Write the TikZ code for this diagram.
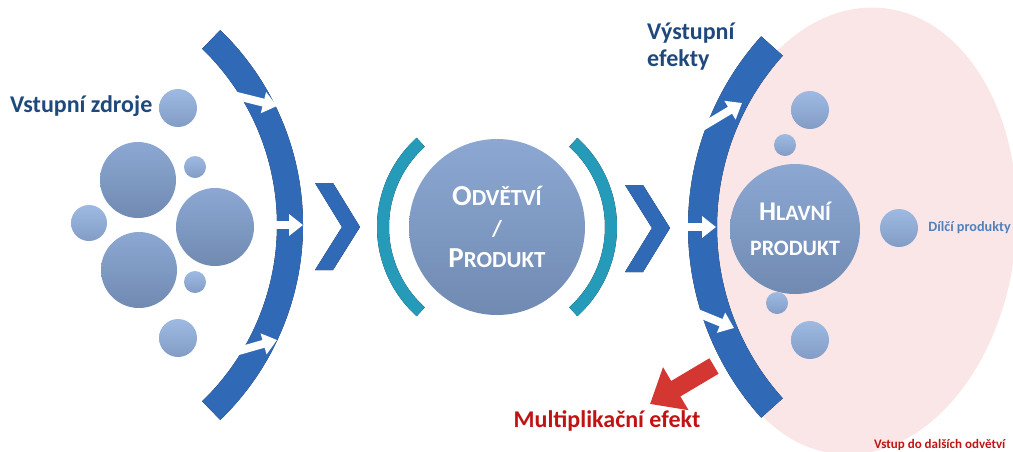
\documentclass[tikz,border=0pt]{standalone}
\usepackage{fontspec}
\setmainfont{Carlito}
\usepackage{xcolor}
\usepackage{tikz}
\usetikzlibrary{calc, positioning, arrows.meta}

\definecolor{tmavamodra}{RGB}{31,73,125}
\definecolor{oblouk}{RGB}{72,142,218}
\definecolor{obloukt}{RGB}{48,105,182}
\definecolor{tyrkys}{RGB}{60,190,218}
\definecolor{tyrkyst}{RGB}{38,155,185}
\definecolor{kruh}{RGB}{158,186,226}
\definecolor{kruht}{RGB}{130,156,198}
\definecolor{velkykruh}{RGB}{140,168,210}
\definecolor{velkykruht}{RGB}{112,138,178}
\definecolor{cervena}{RGB}{192,20,20}
\definecolor{sipkacervena}{RGB}{212,55,50}
\definecolor{ruzova}{RGB}{250,230,230}
\definecolor{strmodra}{RGB}{79,129,189}

\newcommand\prvnipismeno[1]{{\fontsize{29}{31}\selectfont #1}}

\begin{document}
\begin{tikzpicture}[>=latex, x=1pt, y=-1pt,
    bublina/.style={circle, inner sep=0pt, minimum size=#1, top color=kruh, bottom color=kruht},
    velka/.style={circle, inner sep=0pt, minimum size=#1, top color=velkykruh, bottom color=velkykruht},
    nadpis/.style={font=\fontsize{24}{27}\selectfont\bfseries, text=tmavamodra, inner sep=0pt},
    obl/.style={top color=obloukt, middle color=oblouk, bottom color=obloukt},
    zav/.style={top color=tyrkyst, middle color=tyrkys, bottom color=tyrkyst},
    bilasipka/.style={draw=white, line width=8pt, -{Triangle[length=14pt, width=21pt]}}]
    % pozadi
    \fill[white] (0,0) rectangle (1013,451);
    \useasboundingbox (0,0) rectangle (1013,451);
    \fill[ruzova, rotate around={-6:(860,231)}] (860,231) ellipse[x radius=156, y radius=224];

    % vstupni zdroje
    \node[velka=76pt] (zA) at (138,180) {};
    \node[velka=78pt] (zB) at (215,227) {};
    \node[velka=76pt] (zC) at (139,270) {};
    \node[bublina=36pt] (z1) at (89,223) {};
    \node[bublina=38pt] (z2) at (178,108) {};
    \node[bublina=22pt] (z3) at (195,167) {};
    \node[bublina=22pt] (z4) at (195,282) {};
    \node[bublina=38pt] (z5) at (178,338) {};
    \node[nadpis, anchor=west] (vstup) at (10,106) {Vstupní zdroje};

    % levy oblouk
    \coordinate (sL) at (32,225);
    \fill[obl] ($(sL)+(-46:271)$) arc[start angle=-46, end angle=46, radius=271]
        -- ($(sL)+(46:245)$) arc[start angle=46, end angle=-46, radius=245] -- cycle;
    \coordinate (aL1) at (213,90);  \coordinate (bL1) at (277,106);
    \coordinate (aL2) at (255,225); \coordinate (bL2) at (303,225);
    \coordinate (aL3) at (207,360); \coordinate (bL3) at (277,340);
    \foreach \i in {1,2,3} \draw[bilasipka] (aL\i) -- (bL\i);

    % sipky
    \fill[obl] (315,183) -- (333,183) -- (360,227) -- (333,270) -- (315,270) -- (342,227) -- cycle;
    \fill[obl] (625,185) -- (643,185) -- (670,228) -- (643,272) -- (625,272) -- (652,228) -- cycle;

    % odvetvi / produkt
    \node[velka=176pt, text=white, align=center, font=\fontsize{23}{31}\selectfont\bfseries] (odv) at (497,227)
        {\prvnipismeno{O}DVĚTVÍ\\ /\\ \prvnipismeno{P}RODUKT};
    \fill[zav] ($(odv)+(132:120)$) arc[start angle=132, end angle=228, radius=120]
        -- ($(odv)+(228:108)$) arc[start angle=228, end angle=132, radius=108] -- cycle;
    \fill[zav] ($(odv)+(-48:120)$) arc[start angle=-48, end angle=48, radius=120]
        -- ($(odv)+(48:108)$) arc[start angle=48, end angle=-48, radius=108] -- cycle;

    % multiplikacni efekt
    \coordinate (mA) at (714,366);
    \coordinate (mB) at (650,404);
    \draw[draw=sipkacervena, line width=18pt, -{Triangle[length=30pt, width=48pt]}] (mA) -- (mB);
    \node[nadpis, text=cervena] (mult) at (607,421) {Multiplikační efekt};

    % pravy oblouk
    \coordinate (sR) at (973,227);
    \fill[obl] ($(sR)+(138:285)$) arc[start angle=138, end angle=222, radius=285]
        -- ($(sR)+(222:256)$) arc[start angle=222, end angle=138, radius=256] -- cycle;
    \coordinate (aR1) at (697,130); \coordinate (bR1) at (742,103);
    \coordinate (aR2) at (680,227); \coordinate (bR2) at (716,227);
    \coordinate (aR3) at (690,310); \coordinate (bR3) at (734,328);
    \foreach \i in {1,2,3} \draw[bilasipka] (aR\i) -- (bR\i);
    \node[nadpis, align=left, anchor=north west] (vystup) at (647,23) {Výstupní\\efekty};

    % hlavni produkt
    \node[velka=130pt, text=white, align=center, font=\fontsize{22}{35}\selectfont\bfseries] (hlav) at (795,229)
        {{\fontsize{27}{35}\selectfont H}LAVNÍ\\ PRODUKT};
    \node[bublina=38pt] (p1) at (810,110) {};
    \node[bublina=22pt] (p2) at (785,145) {};
    \node[bublina=22pt] (p3) at (777,303) {};
    \node[bublina=38pt] (p4) at (810,340) {};
    \node[bublina=38pt] (dil) at (899,228) {};
    \node[right=10pt of dil, inner sep=0pt, font=\fontsize{14.2}{16}\selectfont\bfseries, text=strmodra] (diltxt) {Dílčí produkty};
    \node[anchor=base west, inner sep=0pt, font=\fontsize{13}{15}\selectfont\bfseries, text=cervena] (dalsi) at (874,448) {Vstup do dalších odvětví};
\end{tikzpicture}
\end{document}
